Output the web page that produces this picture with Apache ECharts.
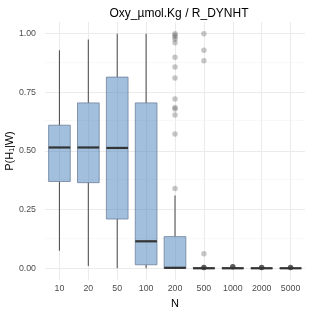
<!DOCTYPE html>
<html><head><meta charset="utf-8">
<script src="https://cdn.jsdelivr.net/npm/echarts@6/dist/echarts.min.js"></script>
<style>html,body{margin:0;padding:0;background:#fff}#c{width:312px;height:312px}</style>
</head><body><div id="c"></div>
<script>
const categories = ['10','20','50','100','200','500','1000','2000','5000'];
// [low, q1, median, q3, high]
const boxValues = [
  [0.075, 0.37, 0.515, 0.61, 0.93],
  [0.01, 0.365, 0.515, 0.705, 0.975],
  [0.0, 0.21, 0.513, 0.815, 1.0],
  [0.0, 0.015, 0.115, 0.705, 1.0],
  [0.0, 0.0, 0.002, 0.135, 0.31],
  [0.0, 0.0, 0.0, 0.002, 0.004],
  [0.0, 0.0, 0.0, 0.002, 0.004],
  [0.0, 0.0, 0.0, 0.001, 0.003],
  [0.0, 0.0, 0.0, 0.001, 0.003]
];
const outliers200 = [1.0, 0.993, 0.986, 0.976, 0.962, 0.90, 0.858, 0.811, 0.722, 0.685, 0.679, 0.653, 0.572, 0.34];
const outliers500 = [1.0, 0.93, 0.885, 0.062];
const denseOutliers = [['500', 0.003], ['1000', 0.006], ['2000', 0.003], ['5000', 0.003]];
const yTicks = [0, 0.25, 0.5, 0.75, 1.0];
const yMinor = [0.125, 0.375, 0.625, 0.875];
const yAxisTitle = 'P(H₁|W)';

const outlierData = []
  .concat(outliers200.map(v => ['200', v]))
  .concat(outliers500.map(v => ['500', v]));

const chart = echarts.init(document.getElementById('c'), null, {renderer: 'canvas'});
const gridLines = yTicks.map(v => ({yAxis: v, lineStyle: {color: '#ebebeb', width: 1.1, type: 'solid'}}))
  .concat(yMinor.map(v => ({yAxis: v, lineStyle: {color: '#f3f3f3', width: 0.6, type: 'solid'}})));

chart.setOption({
  animation: false,
  title: {
    text: 'Oxy_µmol.Kg / R_DYNHT', left: 174, top: 3, textAlign: 'center',
    textStyle: {fontFamily: 'Liberation Sans', fontSize: 12, fontWeight: 'normal', color: '#000'}
  },
  graphic: [{
    type: 'text', x: 10, y: 151, rotation: Math.PI / 2,
    style: {text: yAxisTitle, align: 'center', verticalAlign: 'middle',
      font: '11px "Liberation Sans"', fill: '#000'}
  }],
  grid: {left: 45, right: 7, top: 22, bottom: 32, outerBoundsMode: 'none', containLabel: false},
  xAxis: {
    type: 'category', data: categories,
    name: 'N', nameLocation: 'middle', nameGap: 18, nameMoveOverlap: false,
    nameTextStyle: {fontFamily: 'Liberation Sans', fontSize: 11, color: '#000'},
    axisLine: {show: false}, axisTick: {show: false, alignWithLabel: true},
    axisLabel: {fontFamily: 'Liberation Sans', fontSize: 8.8, color: '#4d4d4d', margin: 4},
    splitLine: {show: true, alignWithLabel: true, lineStyle: {color: '#ebebeb', width: 1.1}}
  },
  yAxis: {
    type: 'value', min: -0.05, max: 1.05,
    axisLine: {show: false}, axisTick: {show: false, customValues: yTicks},
    axisLabel: {fontFamily: 'Liberation Sans', fontSize: 8.8, color: '#4d4d4d', margin: 9,
      customValues: yTicks, formatter: v => v.toFixed(2)},
    splitLine: {show: false}
  },
  series: [
    {
      type: 'line', data: [], silent: true, z: 1,
      markLine: {silent: true, symbol: 'none', label: {show: false}, data: gridLines, animation: false, z: 1}
    },
    {
      type: 'custom', z: 3,
      data: boxValues.map((b, i) => [i, b[0], b[1], b[2], b[3], b[4]]),
      renderItem: function (params, api) {
        const x = api.value(0);
        const bw = api.size([1, 0])[0] * 0.75;
        const pLo = api.coord([x, api.value(1)]);
        const pQ1 = api.coord([x, api.value(2)]);
        const pMed = api.coord([x, api.value(3)]);
        const pQ3 = api.coord([x, api.value(4)]);
        const pHi = api.coord([x, api.value(5)]);
        const cx = pMed[0];
        return {
          type: 'group',
          children: [
            {type: 'line', shape: {x1: cx, y1: pLo[1], x2: cx, y2: pQ1[1]}, style: {stroke: '#555', lineWidth: 1.1}},
            {type: 'line', shape: {x1: cx, y1: pQ3[1], x2: cx, y2: pHi[1]}, style: {stroke: '#555', lineWidth: 1.1}},
            {type: 'rect', shape: {x: cx - bw / 2, y: pQ3[1], width: bw, height: pQ1[1] - pQ3[1]},
              style: {fill: 'rgba(70,130,190,0.5)', stroke: 'rgba(110,130,155,0.8)', lineWidth: 1}},
            {type: 'line', shape: {x1: cx - bw / 2, y1: pMed[1], x2: cx + bw / 2, y2: pMed[1]}, style: {stroke: '#333', lineWidth: 2.2}}
          ]
        };
      }
    },
    {
      type: 'scatter', data: outlierData, symbolSize: 5.5,
      itemStyle: {color: 'rgba(100,100,100,0.45)'}, z: 4
    },
    {
      type: 'scatter', data: denseOutliers, symbolSize: 5.5,
      itemStyle: {color: '#333'}, z: 4
    }
  ]
});
</script></body></html>
